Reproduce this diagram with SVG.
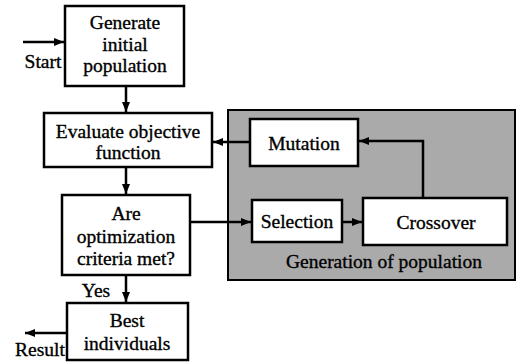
<svg xmlns="http://www.w3.org/2000/svg" width="518" height="362" viewBox="0 0 518 362">
<style>
.box{fill:#fff;stroke:#000;stroke-width:2.5}
.t{font-family:'Liberation Serif','Times New Roman',serif;font-size:19.5px;fill:#000;stroke:#000;stroke-width:0.35;text-anchor:middle}
.l{fill:none;stroke:#000;stroke-width:2.5}
</style>
<defs>
<marker id="a" markerWidth="10" markerHeight="10" viewBox="0 0 10 10" refX="10" refY="5" orient="auto" markerUnits="userSpaceOnUse">
<path d="M0,1 L10,5 L0,9 Z" fill="#000"/>
</marker>
</defs>
<g id="generation">
<rect x="228" y="110" width="287" height="170" fill="#aaaaaa" stroke="#000" stroke-width="2"/>
<text class="t" x="384" y="268">Generation of population</text>
</g>
<g id="generate">
<rect class="box" x="65" y="6" width="119" height="80"/>
<text class="t" x="125" y="29">Generate</text>
<text class="t" x="125" y="51">initial</text>
<text class="t" x="125" y="72">population</text>
</g>
<g id="evaluate">
<rect class="box" x="44" y="113" width="168" height="54"/>
<text class="t" x="128" y="138">Evaluate objective</text>
<text class="t" x="128" y="159">function</text>
</g>
<g id="criteria">
<rect class="box" x="62" y="195" width="128" height="80"/>
<text class="t" x="126" y="220">Are</text>
<text class="t" x="126" y="243">optimization</text>
<text class="t" x="126" y="265">criteria met?</text>
</g>
<g id="best">
<rect class="box" x="67" y="303" width="121" height="57"/>
<text class="t" x="127" y="327">Best</text>
<text class="t" x="127" y="350">individuals</text>
</g>
<g id="mutation">
<rect class="box" x="250" y="119" width="108" height="47"/>
<text class="t" x="304" y="150">Mutation</text>
</g>
<g id="selection">
<rect class="box" x="252" y="200" width="90" height="42"/>
<text class="t" x="297" y="228">Selection</text>
</g>
<g id="crossover">
<rect class="box" x="363" y="198" width="144" height="47"/>
<text class="t" x="436" y="229">Crossover</text>
</g>
<g id="connectors">
<line class="l" x1="23" y1="42" x2="64" y2="42" marker-end="url(#a)"/>
<text class="t" x="43" y="68">Start</text>
<line class="l" x1="126" y1="86" x2="126" y2="112" marker-end="url(#a)"/>
<line class="l" x1="126" y1="167" x2="126" y2="194" marker-end="url(#a)"/>
<line class="l" x1="126" y1="275" x2="126" y2="302" marker-end="url(#a)"/>
<text class="t" x="96" y="297">Yes</text>
<line class="l" x1="67" y1="333" x2="25" y2="333" marker-end="url(#a)"/>
<text class="t" x="40" y="356">Result</text>
<line class="l" x1="250" y1="142" x2="213" y2="142" marker-end="url(#a)"/>
<line class="l" x1="190" y1="222" x2="251" y2="222" marker-end="url(#a)"/>
<line class="l" x1="342" y1="222" x2="362" y2="222" marker-end="url(#a)"/>
<polyline class="l" points="423,198 423,141 359,141" marker-end="url(#a)"/>
</g>
</svg>
